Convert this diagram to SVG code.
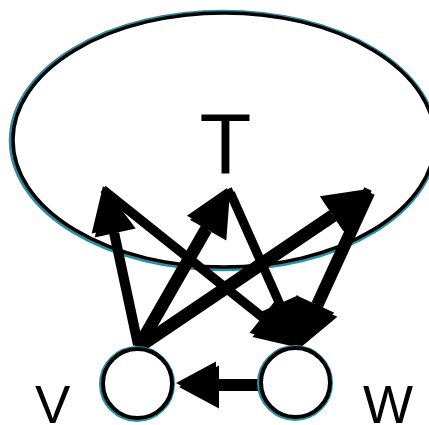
<svg xmlns="http://www.w3.org/2000/svg" xmlns:xlink="http://www.w3.org/1999/xlink" width="429" height="425" viewBox="0 0 429 425">
  <style>
    .lbl { font-family: "Liberation Sans", Arial, sans-serif; fill: #000; }
    .teal { fill: none; stroke: #2e8ea0; }
    .ring { fill: #fff; stroke: #000; stroke-width: 4; }
    .ln { stroke: #000; stroke-width: 8; fill: none; }
    .hd { fill: #000; stroke: none; }
    .shadow .ln { stroke: #c4c4c4; }
    .shadow .hd { fill: #c4c4c4; }
  </style>
  <defs>
    <g id="arrows">
      <line class="ln" x1="137" y1="345" x2="112.2" y2="229"/>
      <polygon class="hd" points="103,186 132.7,224.6 91.7,233.4"/>
      <line class="ln" x1="137" y1="345" x2="205.1" y2="226.2"/>
      <polygon class="hd" points="227,188 223.3,236.6 186.9,215.8"/>
      <line class="ln" x1="137" y1="345" x2="331.5" y2="213.6"/>
      <polygon class="hd" points="368,189 343.3,231 319.8,196.2"/>
      <line class="ln" x1="103" y1="189" x2="262.6" y2="316.5"/>
      <polygon class="hd" points="297,344 249.5,332.9 275.7,300.1"/>
      <line class="ln" x1="228" y1="189" x2="279.1" y2="303.8"/>
      <polygon class="hd" points="297,344 259.9,312.3 298.3,295.3"/>
      <line class="ln" x1="368" y1="189" x2="315.3" y2="304"/>
      <polygon class="hd" points="297,344 296.2,295.3 334.4,312.7"/>
      <line class="ln" x1="260" y1="383" x2="214" y2="383"/>
      <polygon class="hd" points="176,383 216,361.5 216,404.5"/>
    </g>
  </defs>

  <g id="node-T">
    <ellipse class="teal" cx="223.5" cy="140.5" rx="213" ry="129" stroke-width="3.5"/>
    <ellipse cx="224" cy="140" rx="211" ry="127" fill="none" stroke="#000" stroke-width="3.5"/>
    <text class="lbl" x="225.5" y="173" font-size="85" text-anchor="middle">T</text>
  </g>

  <g id="connectors">
    <use xlink:href="#arrows" href="#arrows" class="shadow" transform="translate(3,4)"/>
    <use xlink:href="#arrows" href="#arrows"/>
  </g>

  <g id="node-V">
    <circle class="teal" cx="137" cy="384" r="36.5" stroke-width="3"/>
    <circle class="ring" cx="137.5" cy="383.5" r="34.5"/>
    <text class="lbl" x="35" y="423" font-size="53">V</text>
  </g>

  <g id="node-W">
    <circle class="teal" cx="295" cy="383" r="36.5" stroke-width="3"/>
    <circle class="ring" cx="295.5" cy="382.5" r="34.5"/>
    <text class="lbl" x="363" y="423" font-size="53">W</text>
  </g>
</svg>
